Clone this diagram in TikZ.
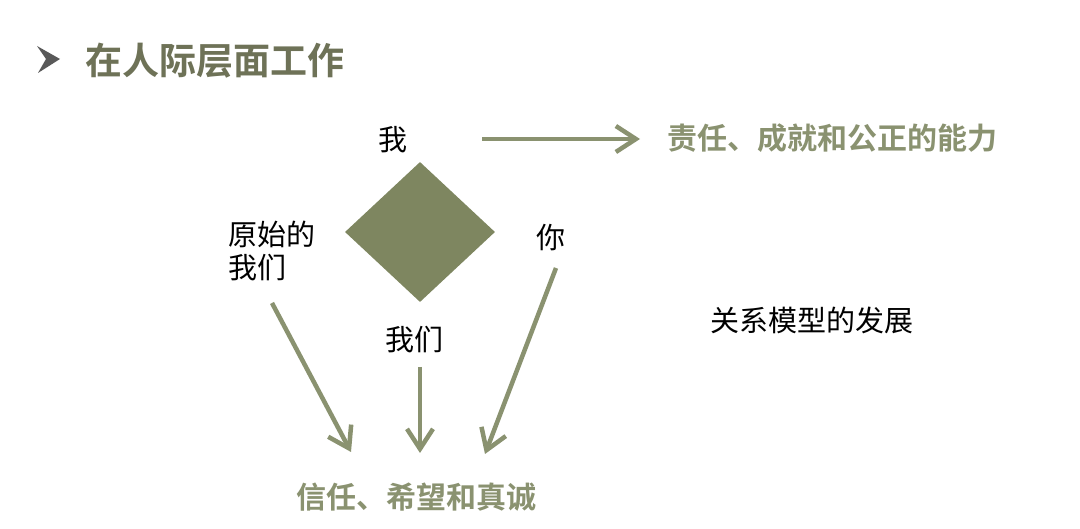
\documentclass[tikz,border=0pt]{standalone}
\usepackage{fontspec}
\setmainfont{Noto Sans CJK SC}
\newfontfamily\cjkb{Noto Sans CJK SC Bold}
\usetikzlibrary{arrows.meta,shapes.geometric}
\definecolor{oliveD}{HTML}{6E7257}
\definecolor{oliveF}{HTML}{7E8660}
\definecolor{oliveA}{HTML}{8A9270}
\tikzset{
  blk/.style={inner sep=0pt, text=black, font=\fontsize{29}{31}\selectfont, align=left},
  hl/.style={inner sep=0pt, text=oliveA, font=\cjkb\fontsize{30}{32}\selectfont},
  arr/.style={draw=oliveA, line width=4.5pt, -{Straight Barb[length=20pt,width=26pt]}},
}
\begin{document}
\begin{tikzpicture}[x=1pt,y=-1pt]
\useasboundingbox[fill=white] (0,0) rectangle (1080,529);
% title
\fill[gray!70!black] (37,46) -- (60,59) -- (38,73) -- (46,59) -- cycle;
\node[inner sep=0pt, anchor=west, text=oliveD, font=\cjkb\fontsize{37}{40}\selectfont] (title) at (85,61) {在人际层面工作};
% diamond
\node[diamond, fill=oliveF, minimum width=150pt, minimum height=140pt, inner sep=0pt] (dia) at (420,232) {};
% labels
\node[blk] (wo) at (393,140) {我};
\node[blk, anchor=north west, font=\fontsize{29}{33}\selectfont] (yuanshi) at (228,221) {原始的\\我们};
\node[blk] (ni) at (551,238) {你};
\node[blk] (women) at (414,340) {我们};
\node[blk, anchor=west] (guanxi) at (710,320) {关系模型的发展};
\node[hl, anchor=west] (zeren) at (667,138) {责任、成就和公正的能力};
\node[hl] (xinren) at (416,497) {信任、希望和真诚};
% arrows
\coordinate (a1s) at (482,139);
\coordinate (a1e) at (640,139);
\draw[arr] (a1s) -- (a1e);
\coordinate (l1) at (272,303);
\coordinate (l2) at (351,452);
\draw[arr] (l1) -- (l2);
\coordinate (m1) at (420,367);
\coordinate (m2) at (420,453);
\draw[arr] (m1) -- (m2);
\coordinate (r1) at (556,268);
\coordinate (r2) at (485,454);
\draw[arr] (r1) -- (r2);
\end{tikzpicture}
\end{document}
